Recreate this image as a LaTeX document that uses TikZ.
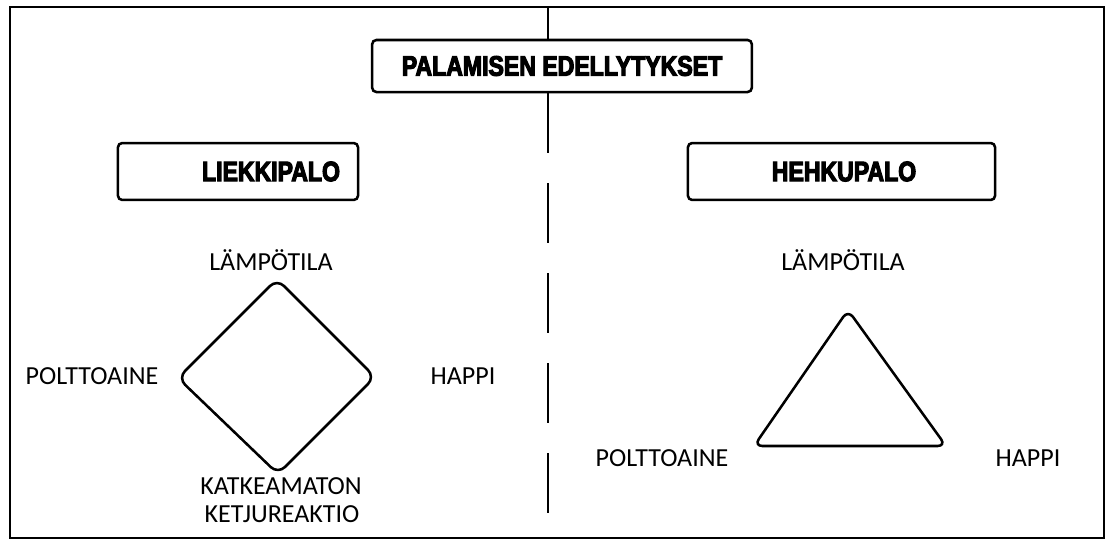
\documentclass[tikz,border=0pt]{standalone}
\usepackage{fontspec}
\setmainfont{Carlito}
\newfontfamily\headfont{Liberation Sans}[FakeStretch=0.82,BoldFeatures={FakeBold=4}]
\usetikzlibrary{positioning}

\begin{document}
\begin{tikzpicture}[
 x=0.025cm,y=-0.025cm,
 outline/.style={draw=black,line width=1.4pt},
 headbox/.style={draw=black,line width=1.8pt,rounded corners=3pt,fill=white,
   inner sep=0pt},
 headtext/.style={font=\headfont\bfseries\fontsize{20}{22}\selectfont,inner sep=0pt},
 figure/.style={draw=black,line width=1.8pt,line join=round},
 term/.style={font=\fontsize{18.5}{22}\selectfont,inner sep=0pt,anchor=base},
 divider/.style={draw=black,line width=1.6pt,dash pattern=on 42.7pt off 21.3pt}
]
\useasboundingbox (0,0) rectangle (1106,540);
% frame and the dividing line
\draw[outline] (10,7) rectangle (1104,538);
\coordinate (top) at (548,7);
\coordinate (bottom) at (548,538);

% headings
\node[headbox,minimum width=270pt,minimum height=37pt] (title) at (562,66) {};
\node[headtext] (titletext) at (title) {PALAMISEN EDELLYTYKSET};
\node[headbox,minimum width=170.7pt,minimum height=40.5pt] (flame) at (238,171.5) {};
\node[headtext] (flametext) at (271,171.5) {LIEKKIPALO};
\node[headbox,minimum width=218.4pt,minimum height=40.5pt] (glow) at (841.5,171.5) {};
\node[headtext] (glowtext) at (844,171.5) {HEHKUPALO};

\draw[outline,line width=1.6pt] (top) -- (top |- title.north);
\draw[divider] (top |- title.south) -- (bottom);

% fire square
\draw[figure,rounded corners=7pt] (277,279) -- (375,377) -- (278,474)
  -- (178,378) -- cycle;
\node[term] (heat1) at (271,270) {LÄMPÖTILA};
\node[term] (fuel1) at (92,384) {POLTTOAINE};
\node[term] (oxygen1) at (463,384) {HAPPI};
\node[term] (chain1) at (281,494) {KATKEAMATON};
\node[term] (chain2) at (282,522) {KETJUREAKTIO};

% fire triangle
\draw[figure,rounded corners=6pt] (848,310) -- (946,446) -- (754,446) -- cycle;
\node[term] (heat2) at (843,270) {LÄMPÖTILA};
\node[term] (fuel2) at (662,466) {POLTTOAINE};
\node[term] (oxygen2) at (1028,466) {HAPPI};
\end{tikzpicture}
\end{document}
